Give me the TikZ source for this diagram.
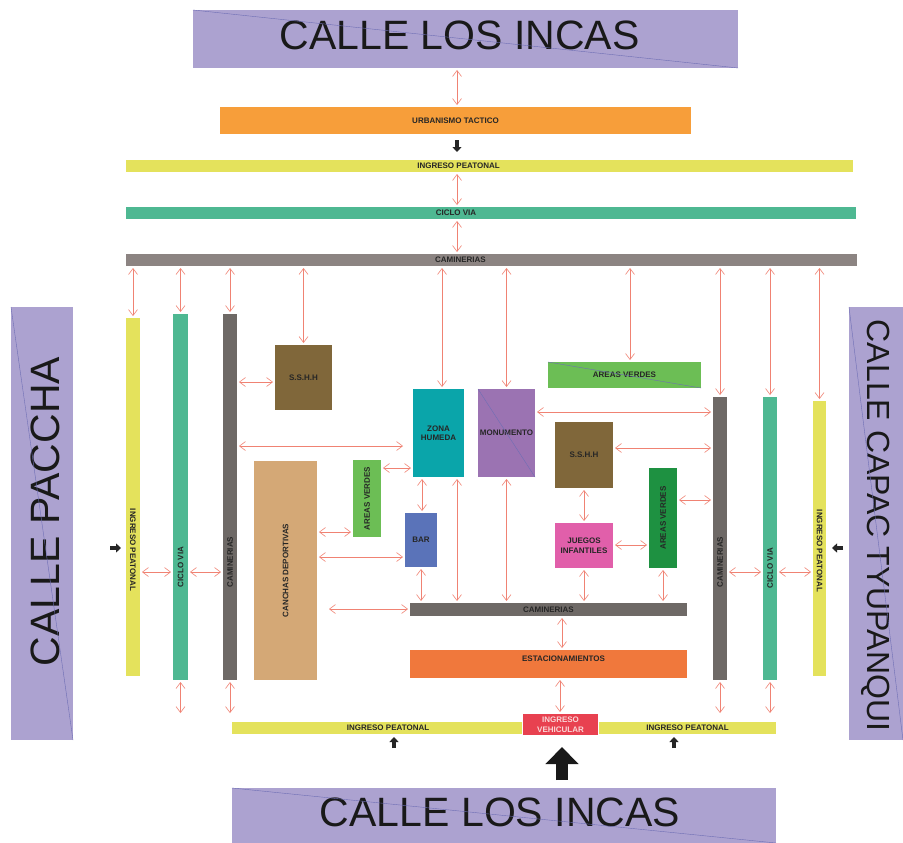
\documentclass[tikz,border=0pt]{standalone}
\usepackage{fontspec}
\setmainfont{Liberation Sans}
\usetikzlibrary{arrows.meta, positioning}
\definecolor{callelila}{RGB}{172,162,208}
\definecolor{diagazul}{RGB}{110,110,180}
\definecolor{naranja}{RGB}{247,158,58}
\definecolor{amarillo}{RGB}{228,226,92}
\definecolor{verdeciclo}{RGB}{78,184,146}
\definecolor{grisclaro}{RGB}{140,132,130}
\definecolor{grisoscuro}{RGB}{110,105,102}
\definecolor{cafe}{RGB}{128,103,58}
\definecolor{tierra}{RGB}{212,168,118}
\definecolor{turquesa}{RGB}{10,165,170}
\definecolor{lila}{RGB}{155,115,178}
\definecolor{azul}{RGB}{90,115,185}
\definecolor{verdeclaro}{RGB}{108,190,85}
\definecolor{verdeoscuro}{RGB}{30,145,65}
\definecolor{rosa}{RGB}{225,95,170}
\definecolor{naranjarojo}{RGB}{240,120,60}
\definecolor{rojo}{RGB}{232,65,80}
\definecolor{rosaclaro}{RGB}{250,215,215}
\definecolor{enlacerojo}{RGB}{240,130,115}
\newcommand\etiq{\fontsize{8}{9.5}\selectfont\bfseries}
\newcommand\grande{\fontsize{41}{41}\selectfont}
\newcommand\medio{\fontsize{32}{32}\selectfont}

\begin{document}
\begin{tikzpicture}[
  x=1pt, y=-1pt,
  bloque/.style={inner sep=0pt, outer sep=0pt, font=\etiq, text=black!85, align=center},
  rotulo/.style={inner sep=0pt, font=\etiq, text=black!85, align=center},
  calle/.style={bloque, fill=callelila},
  rcalle/.style={inner sep=0pt, text=black!90},
  enlace/.style={{Straight Barb[length=6pt,width=9pt]}-{Straight Barb[length=6pt,width=9pt]}, draw=enlacerojo, line width=0.6pt, shorten <=2pt, shorten >=2pt},
  acceso/.style={-{Triangle[length=5pt,width=9pt]}, line width=3.5pt, black!85},
  grueso/.style={-{Triangle[length=17pt,width=32pt]}, line width=12pt, black!90},
  diag/.style={draw=diagazul, line width=0.4pt}
]
  \useasboundingbox[fill=white] (0,0) rectangle (903,843);

  % calles perimetrales
  \node[calle, minimum width=545pt, minimum height=58pt, label={[rcalle, font=\grande, xshift=-6pt, yshift=4pt]center:CALLE LOS INCAS}] (calleN) at (465.5,39) {};
  \node[calle, minimum width=544pt, minimum height=55pt, label={[rcalle, font=\grande, xshift=-4pt, yshift=3pt]center:CALLE LOS INCAS}] (calleS) at (504,815.5) {};
  \node[calle, minimum width=62pt, minimum height=433pt, label={[rcalle, font=\grande, xshift=3pt, yshift=12pt]center:\rotatebox{90}{CALLE PACCHA}}] (calleW) at (42,523.5) {};
  \node[calle, minimum width=54pt, minimum height=433pt, label={[rcalle, font=\medio, yshift=-2pt]center:\rotatebox{-90}{CALLE CAPAC TYUPANQUI}}] (calleE) at (876,523.5) {};

  % franjas norte
  \node[bloque, fill=naranja, minimum width=471pt, minimum height=27pt] (urb) at (455.5,120.5) {URBANISMO TACTICO};
  \node[bloque, fill=amarillo, minimum width=727pt, minimum height=12pt, label={[rotulo, xshift=-31pt]center:INGRESO PEATONAL}] (ipN) at (489.5,166) {};
  \node[bloque, fill=verdeciclo, minimum width=730pt, minimum height=12pt, label={[rotulo, xshift=-35pt]center:CICLO VIA}] (ciclN) at (491,213) {};
  \node[bloque, fill=grisclaro, minimum width=731pt, minimum height=12pt, label={[rotulo, xshift=-31pt]center:CAMINERIAS}] (camN) at (491.5,260) {};

  % franjas oeste
  \node[bloque, fill=amarillo, minimum width=14pt, minimum height=358pt, label={[rotulo, yshift=-53pt]center:\rotatebox{-90}{INGRESO PEATONAL}}] (ipW) at (133,497) {};
  \node[bloque, fill=verdeciclo, minimum width=15pt, minimum height=366pt, label={[rotulo, yshift=-70pt]center:\rotatebox{90}{CICLO VIA}}] (ciclW) at (180.5,497) {};
  \node[bloque, fill=grisoscuro, minimum width=14pt, minimum height=366pt, label={[rotulo, yshift=-65pt]center:\rotatebox{90}{CAMINERIAS}}] (camW) at (230,497) {};

  % zonas interiores
  \node[bloque, fill=cafe, minimum width=57pt, minimum height=65pt] (sshhW) at (303.5,377.5) {S.S.H.H};
  \node[bloque, fill=tierra, minimum width=63pt, minimum height=219pt] (canchas) at (285.5,570.5) {\rotatebox{90}{CANCHAS DEPORTIVAS}};
  \node[bloque, fill=verdeclaro, minimum width=28pt, minimum height=77pt] (avW) at (367,498.5) {\rotatebox{90}{AREAS VERDES}};
  \node[bloque, fill=turquesa, minimum width=51pt, minimum height=88pt] (humeda) at (438.5,433) {ZONA\\HUMEDA};
  \node[bloque, fill=lila, minimum width=57pt, minimum height=88pt] (monu) at (506.5,433) {MONUMENTO};
  \node[bloque, fill=azul, minimum width=32pt, minimum height=54pt] (bar) at (421,540) {BAR};
  \node[bloque, fill=verdeclaro, minimum width=153pt, minimum height=26pt] (avN) at (624.5,375) {AREAS VERDES};
  \node[bloque, fill=cafe, minimum width=58pt, minimum height=66pt] (sshhE) at (584,455) {S.S.H.H};
  \node[bloque, fill=rosa, minimum width=58pt, minimum height=45pt] (juegos) at (584,545.5) {JUEGOS\\INFANTILES};
  \node[bloque, fill=verdeoscuro, minimum width=28pt, minimum height=100pt] (avE) at (663,518) {\rotatebox{90}{AREAS VERDES}};
  \node[bloque, fill=grisoscuro, minimum width=277pt, minimum height=13pt] (camS) at (548.5,609.5) {CAMINERIAS};
  \node[bloque, fill=naranjarojo, minimum width=277pt, minimum height=28pt, label={[rotulo, xshift=15pt, yshift=5pt]center:ESTACIONAMIENTOS}] (estac) at (548.5,664) {};

  % franjas este
  \node[bloque, fill=grisoscuro, minimum width=14pt, minimum height=283pt, label={[rotulo, yshift=-23.5pt]center:\rotatebox{90}{CAMINERIAS}}] (camE) at (720,538.5) {};
  \node[bloque, fill=verdeciclo, minimum width=14pt, minimum height=283pt, label={[rotulo, yshift=-29.5pt]center:\rotatebox{90}{CICLO VIA}}] (ciclE) at (770,538.5) {};
  \node[bloque, fill=amarillo, minimum width=13pt, minimum height=275pt, label={[rotulo, yshift=-12.5pt]center:\rotatebox{-90}{INGRESO PEATONAL}}] (ipE) at (819.5,538.5) {};

  % ingresos sur
  \node[bloque, fill=amarillo, minimum width=290pt, minimum height=12pt, label={[rotulo, xshift=11pt]center:INGRESO PEATONAL}] (ipS1) at (377,728) {};
  \node[bloque, fill=rojo, text=rosaclaro, minimum width=75pt, minimum height=21pt] (vehic) at (560.5,724.5) {INGRESO\\VEHICULAR};
  \node[bloque, fill=amarillo, minimum width=177pt, minimum height=12pt] (ipS2) at (687.5,728) {INGRESO PEATONAL};

  % trazos de las calles
  \draw[diag] (calleN.north west) -- (calleN.south east);
  \draw[diag] (calleS.north west) -- (calleS.south east);
  \draw[diag] (calleW.north west) -- (calleW.south east);
  \draw[diag] (calleE.north west) -- (calleE.south east);
  \draw[diag] (monu.north west) -- (monu.south east);
  \draw[diag] (avN.north west) -- (avN.south east);

  % eje norte
  \coordinate (eje) at (457,0);
  \draw[enlace] (calleN.south -| eje) -- (urb.north -| eje);
  \draw[enlace] (ipN.south -| eje) -- (ciclN.north -| eje);
  \draw[enlace] (ciclN.south -| eje) -- (camN.north -| eje);

  % desde caminerias norte
  \draw[enlace] (camN.south -| ipW.north) -- (ipW.north);
  \draw[enlace] (camN.south -| ciclW.north) -- (ciclW.north);
  \draw[enlace] (camN.south -| camW.north) -- (camW.north);
  \draw[enlace] (camN.south -| sshhW.north) -- (sshhW.north);
  \draw[enlace] (camN.south -| 442,0) -- (humeda.north -| 442,0);
  \draw[enlace] (camN.south -| monu.north) -- (monu.north);
  \draw[enlace] (camN.south -| 630,0) -- (avN.north -| 630,0);
  \draw[enlace] (camN.south -| camE.north) -- (camE.north);
  \draw[enlace] (camN.south -| ciclE.north) -- (ciclE.north);
  \draw[enlace] (camN.south -| ipE.north) -- (ipE.north);

  % conexiones oeste
  \draw[enlace] (ipW.east |- 0,572) -- (ciclW.west |- 0,572);
  \draw[enlace] (ciclW.east |- 0,572) -- (camW.west |- 0,572);
  \draw[enlace] (camW.east |- 0,382) -- (sshhW.west |- 0,382);
  \draw[enlace, shorten >=10pt] (camW.east |- 0,446) -- (humeda.west |- 0,446);
  \draw[enlace] (avW.east |- 0,468) -- (humeda.west |- 0,468);
  \draw[enlace] (canchas.east |- 0,532) -- (avW.west |- 0,532);
  \draw[enlace] (canchas.east |- 0,557) -- (bar.west |- 0,557);
  \draw[enlace, shorten <=12pt] (canchas.east |- 0,609) -- (camS.west |- 0,609);

  % conexiones centro
  \draw[enlace] (humeda.south -| 422,0) -- (bar.north -| 422,0);
  \draw[enlace] (bar.south -| 421,0) -- (camS.north -| 421,0);
  \draw[enlace] (humeda.south -| 457,0) -- (camS.north -| 457,0);
  \draw[enlace] (monu.south) -- (camS.north -| monu.south);
  \draw[enlace] (sshhE.south) -- (juegos.north);
  \draw[enlace] (juegos.south) -- (camS.north -| juegos.south);
  \draw[enlace] (avE.south) -- (camS.north -| avE.south);
  \draw[enlace] (juegos.east |- 0,545) -- (avE.west |- 0,545);
  \draw[enlace] (camS.south -| 562,0) -- (estac.north -| 562,0);
  \draw[enlace] (estac.south -| 560,0) -- (vehic.north -| 560,0);

  % conexiones este
  \draw[enlace] (monu.east |- 0,412) -- (camE.west |- 0,412);
  \draw[enlace] (sshhE.east |- 0,448) -- (camE.west |- 0,448);
  \draw[enlace] (avE.east |- 0,500) -- (camE.west |- 0,500);
  \draw[enlace] (camE.east |- 0,572) -- (ciclE.west |- 0,572);
  \draw[enlace] (ciclE.east |- 0,572) -- (ipE.west |- 0,572);

  % hacia ingresos sur
  \draw[enlace, shorten >=9pt] (ciclW.south) -- (ipS1.north -| ciclW.south);
  \draw[enlace, shorten >=9pt] (camW.south) -- (ipS1.north -| camW.south);
  \draw[enlace, shorten >=9pt] (camE.south) -- (ipS2.north -| camE.south);
  \draw[enlace, shorten >=9pt] (ciclE.south) -- (ipS2.north -| ciclE.south);

  % accesos
  \draw[acceso] (urb.south -| eje) ++(0,6) -- ++(0,12);
  \draw[acceso] (ipW.west |- 0,548) ++(-16,0) -- ++(11,0);
  \draw[acceso] (ipE.east |- 0,548) ++(17,0) -- ++(-11,0);
  \draw[acceso] (ipS1.south -| 394,0) ++(0,14) -- ++(0,-11);
  \draw[acceso] (ipS2.south -| 674,0) ++(0,14) -- ++(0,-11);
  \draw[grueso] (vehic.south -| 562,0) ++(0,45) -- ++(0,-33);
\end{tikzpicture}
\end{document}
